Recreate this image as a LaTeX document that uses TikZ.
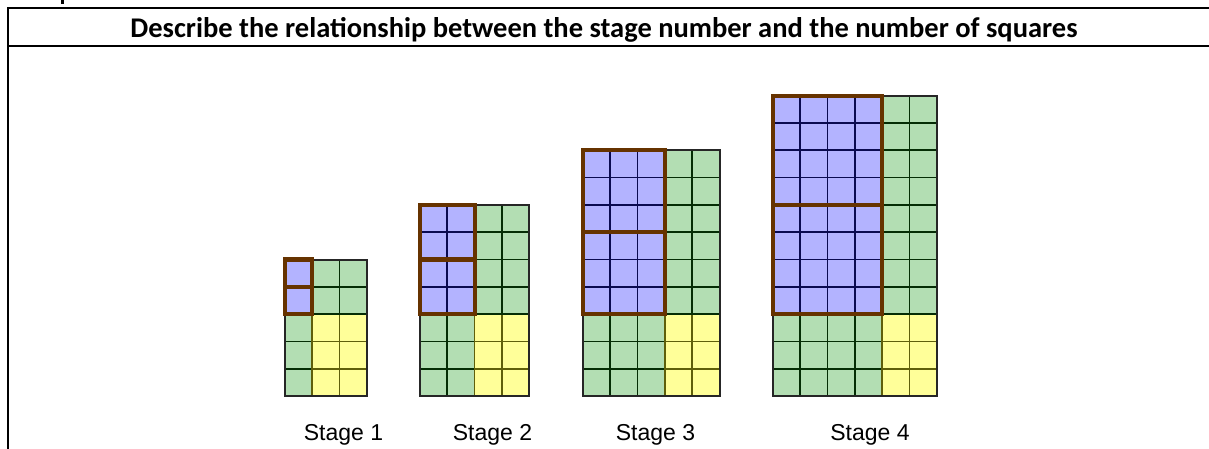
\documentclass[tikz,border=0pt]{standalone}
\usepackage{fontspec}
\setmainfont{Carlito}
\newfontfamily\arialfont{Liberation Sans}
\usetikzlibrary{calc}
\definecolor{bluecell}{RGB}{179,179,255}
\definecolor{greencell}{RGB}{179,222,179}
\definecolor{yellowcell}{RGB}{255,255,153}
\definecolor{blueline}{RGB}{10,10,80}
\definecolor{greenline}{RGB}{5,45,5}
\definecolor{yellowline}{RGB}{95,95,10}
\definecolor{brownline}{RGB}{102,51,0}
\tikzset{
	cellgrid/.style={line width=1.7pt, step=1},
	stageborder/.style={line width=2pt, color=black!85},
	blockline/.style={line width=4.2pt, color=brownline},
	stagelabel/.style={font=\arialfont\fontsize{23}{27}\selectfont, anchor=base, inner sep=0pt},
	titletext/.style={font=\bfseries\fontsize{28.5}{32}\selectfont, anchor=base, inner sep=0pt}
}
% #1 left edge, #2 stage number
\def\stagegrid#1#2{
	\begin{scope}[shift={(#1,396)}, x=27.3pt, y=27.3pt]
		\fill[greencell] (0,0) rectangle (#2,3);
		\fill[yellowcell] (#2,0) rectangle ({#2+2},3);
		\fill[bluecell] (0,3) rectangle (#2,{3+2*#2});
		\fill[greencell] (#2,3) rectangle ({#2+2},{3+2*#2});
		\draw[cellgrid, color=greenline] (0,0) grid (#2,3);
		\draw[cellgrid, color=yellowline] (#2,0) grid ({#2+2},3);
		\draw[cellgrid, color=blueline] (0,3) grid (#2,{3+2*#2});
		\draw[cellgrid, color=greenline] (#2,3) grid ({#2+2},{3+2*#2});
		\draw[stageborder] (0,0) rectangle ({#2+2},{3+2*#2});
		\draw[blockline] (0,3) rectangle (#2,{3+#2});
		\draw[blockline] (0,{3+#2}) rectangle (#2,{3+2*#2});
	\end{scope}
}

\begin{document}
\begin{tikzpicture}[x=1pt, y=-1pt]
		%%%%% START %%%%%
		\useasboundingbox (0,0) rectangle (1209,448);
		
		\fill (60.5,0) rectangle (63.5,4);
		
		\draw[line width=2pt] (1212,8) -- (8,8) -- (8,452);
		\draw[line width=2pt] (8,45.5) -- (1212,45.5);
		\node[titletext] (title) at (604,37.5) {Describe the relationship between the stage number and the number of squares};
		
		\stagegrid{285}{1}
		\stagegrid{420}{2}
		\stagegrid{583}{3}
		\stagegrid{773}{4}
		
		\node[stagelabel] (label1) at (343.5,440) {Stage 1};
		\node[stagelabel] (label2) at (492.5,440) {Stage 2};
		\node[stagelabel] (label3) at (655.5,440) {Stage 3};
		\node[stagelabel] (label4) at (870,440) {Stage 4};
		
		%%%%% END %%%%%
	\end{tikzpicture}
\end{document}
